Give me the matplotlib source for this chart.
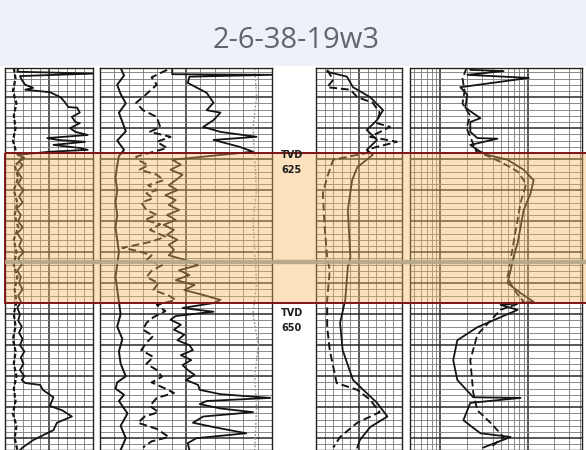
import matplotlib
matplotlib.use("Agg")
import matplotlib.pyplot as plt
import numpy as np

# ---------------- data ----------------
title = "2-6-38-19w3"
depth_top, depth_bottom = 610.3, 671.9
zone_top, zone_bottom = 624.0, 648.2
marker_depth = 641.6
tvd_labels = [("TVD", 624.3), ("625", 626.7), ("TVD", 649.8), ("650", 652.2)]

# Track 1 (0-100 scale)
gr_depth = [610.3, 610.9, 611.2, 611.6, 612.2, 613.0, 613.5, 613.8, 614.2, 615.0, 615.8, 616.6, 616.7,
            617.5, 618.2, 619.0, 619.2, 620.0, 620.6, 621.1, 621.6, 621.9, 622.2, 622.7, 623.2, 623.5,
            623.8, 624.3, 624.8, 625.3, 626, 627, 628, 629, 630, 631, 632, 633, 634, 635, 636, 637, 638,
            639, 640, 641, 642, 643, 644, 645, 646, 647, 648, 649, 650, 651, 652, 653, 654, 655, 656,
            657, 658, 659, 660, 660.6, 661.1, 661.4, 662.2, 663.4, 664.8, 665.5, 666.5, 667.5, 668.7,
            670.3, 671.5, 671.9]
gr_value = [15, 14, 100, 17, 19, 23, 32, 23, 51, 63, 68, 72, 82, 85, 76, 80, 85, 74, 80, 94, 48, 60, 91,
            55, 85, 94, 51, 15, 22, 16, 20, 14, 19, 15, 21, 16, 20, 13, 18, 15, 20, 14, 19, 16, 21, 15,
            19, 14, 18, 16, 20, 15, 18, 14, 17, 15, 19, 16, 20, 17, 22, 18, 21, 17, 22, 19, 23, 40, 43,
            55, 51, 65, 76, 59, 55, 32, 20, 17]
t1b_depth = [610.3, 612, 614, 616, 618, 620, 622, 624, 625, 626, 628, 630, 632, 634, 636, 638, 640, 642,
             644, 646, 648, 650, 652, 654, 656, 658, 660, 662, 664, 666, 668, 670, 671.9]
t1b_value = [10, 12, 9, 13, 10, 12, 9, 13, 20, 11, 15, 10, 14, 11, 15, 10, 13, 10, 14, 11, 13, 10, 12, 9,
             12, 10, 13, 10, 12, 9, 13, 11, 14]

# Track 2 (0-100 scale)
t2a_depth = [610.3, 611.5, 613, 614.5, 616, 617.5, 619, 620.5, 622, 623.5, 624.5, 626, 628, 630, 632, 634,
             636, 638, 640, 642, 644, 646, 648, 650, 652, 654, 656, 658, 660, 661, 662, 663, 664, 666,
             668, 670, 671.9]
t2a_value = [12, 14, 10, 12, 15, 11, 13, 15, 10, 14, 11, 10, 9, 10, 9, 10, 9, 10, 11, 10, 9, 10, 11, 12,
             10, 13, 11, 12, 15, 10, 9, 14, 11, 16, 12, 15, 12]
t2b_depth = [610.6, 611.8, 613.0, 615.0, 615.9, 617.1, 618.2, 619.8, 620.6, 621.4, 622.2, 623.2, 624.6,
             625.1, 626.0, 626.7, 627.5, 628.4, 629.2, 630.0, 630.5, 631.3, 632.0, 633.2, 634.0, 634.8,
             635.5, 636.4, 637.5, 638.3, 639.3, 639.8, 640.5, 641.3, 642.1, 643.0, 644.0, 645.0, 646.1,
             647.0, 647.7, 648.5, 649.5, 650.5, 651.4, 652.5, 653.5, 654.6, 655.8, 656.9, 658.0, 659.0,
             660.1, 661.0, 662.0, 662.7, 663.5, 664.8, 665.8, 666.5, 667.5, 668.5, 669.8, 670.5, 671.5]
t2b_value = [39, 30, 33, 25, 21, 25, 33, 35, 29, 41, 33, 39, 21, 22, 28, 23, 33, 37, 28, 33, 27, 31, 24,
             27, 33, 26, 35, 29, 38, 30, 13, 22, 30, 27, 36, 30, 27, 34, 31, 40, 44, 33, 38, 31, 27, 25,
             31, 27, 24, 31, 27, 33, 36, 30, 38, 43, 33, 29, 34, 26, 22, 33, 40, 30, 25]
t2c_depth = [610.3, 611.3, 611.4, 611.7, 612.7, 614.3, 615.9, 617.1, 617.5, 618.7, 619.8, 620.6, 621.4,
             621.9, 623.0, 623.8, 625.1, 625.9, 626.7, 627.5, 628.4, 629.2, 630.0, 630.8, 631.6, 632.4,
             633.2, 634.0, 634.8, 635.6, 636.4, 637.2, 638.0, 638.8, 639.6, 640.5, 641.3, 642.1, 642.9,
             643.7, 644.5, 645.3, 646.1, 646.9, 647.7, 648.2, 649.0, 649.6, 650.3, 650.9, 651.7, 652.5,
             653.3, 654.2, 655.0, 655.8, 656.6, 657.4, 658.2, 659.0, 659.8, 660.6, 661.4, 662.2, 662.9,
             663.5, 664.0, 664.5, 665.2, 665.8, 666.5, 667.5, 668.2, 669.2, 670.0, 670.8, 671.9]
t2c_value = [42, 42, 100, 52, 51, 62, 66, 62, 70, 66, 60, 70, 91, 66, 81, 89, 42, 47, 41, 48, 44, 40, 45,
             38, 44, 40, 46, 39, 44, 37, 43, 39, 45, 40, 43, 40, 50, 57, 46, 52, 44, 55, 49, 60, 70, 66,
             48, 66, 44, 41, 47, 43, 49, 45, 52, 54, 47, 53, 48, 51, 55, 50, 57, 58, 70, 99, 62, 58, 70,
             89, 60, 54, 66, 85, 56, 51, 52]
t2d_depth = [610.3, 615, 620, 625, 630, 635, 640, 645, 650, 655, 660, 665, 671.9]
t2d_value = [90, 91, 89, 90, 91, 89, 90, 91, 89, 92, 90, 91, 90]

# Track 3 (0-100 scale)
t3a_depth = [610.6, 612.2, 613.4, 613.8, 615.0, 615.9, 617.5, 619.2, 619.8, 621.4, 622.2, 623.2, 624.0,
             625.1, 627.9, 630.5, 635.9, 640.8, 642.9, 647.7, 652.1, 655.8, 661.1, 662.2, 663.8, 665.8,
             667.5, 669.8, 671.5]
t3a_value = [13, 20, 13, 40, 48, 66, 74, 71, 86, 63, 94, 66, 59, 20, 13, 8, 10, 13, 16, 13, 13, 16, 24,
             48, 63, 74, 48, 28, 20]
t3b_depth = [610.9, 611.7, 613.4, 615.0, 617.1, 618.7, 620.3, 621.9, 623.5, 624.3, 626.3, 628.4, 633.2,
             640.8, 642.4, 647.7, 651.4, 655.8, 660.6, 662.2, 664.3, 666.5, 668.2, 670.3, 671.5]
t3b_value = [13, 36, 43, 63, 78, 71, 59, 71, 59, 66, 48, 42, 37, 40, 37, 34, 28, 31, 43, 55, 71, 83, 63,
             51, 48]

# Track 4 (resistivity, log scale)
t4a_depth = [610.3, 610.6, 610.8, 611.4, 611.9, 613.4, 614.6, 616.7, 618.4, 619.0, 620.6, 621.6, 621.7,
             622.7, 623.8, 624.3, 625.1, 626.7, 628.4, 630.5, 633.2, 635.9, 638.5, 640.8, 642.9, 645.0,
             646.6, 648.0, 648.5, 649.3, 652.1, 654.2, 657.4, 660.6, 663.4, 663.5, 664.3, 667.1, 669.2,
             669.8, 671.5]
t4a_value = [2.21, 2.21, 5.3, 2.04, 10.3, 1.70, 2.04, 1.94, 2.88, 2.21, 2.21, 2.66, 4.52, 2.21, 2.88, 3.47,
             5.89, 9.0, 11.7, 10.8, 9.0, 8.31, 7.68, 6.9, 6.38, 5.89, 8.31, 11.7, 4.9, 7.68, 2.66, 1.57,
             1.41, 1.57, 2.39, 8.31, 2.21, 1.84, 2.88, 6.38, 3.12]
t4b_depth = [610.3, 612, 614, 616, 618, 620, 622, 623.8, 624.5, 625.5, 627, 629, 632, 636, 640, 644, 646,
             648, 649.3, 653.3, 657.4, 661.1, 662.7, 665.5, 667.5, 669.8, 671.5]
t4b_value = [2.0, 1.8, 1.9, 1.8, 2.2, 2.0, 2.3, 2.6, 3.5, 5.0, 7.7, 9.6, 8.3, 7.4, 6.6, 5.9, 6.9, 9.0, 4.9,
             2.66, 2.21, 2.33, 2.39, 2.66, 3.76, 5.3, 3.76]

# ---------------- figure ----------------
W, H = 586, 450
fig = plt.figure(figsize=(W / 100, H / 100), dpi=100)
fig.patch.set_facecolor("#eef2f8")

LOG_TOP = 68  # pixel row where the log starts

bg = fig.add_axes([0, 0, 1, (H - LOG_TOP + 2) / H])
bg.set_facecolor("white")
bg.set_xticks([]); bg.set_yticks([])
for s in bg.spines.values():
    s.set_visible(False)

fig.text(296 / W, 1 - 41 / H, title, ha="center", va="center", fontsize=21,
         family="Open Sans", color="#60666f")


def track(x0, x1):
    ax = fig.add_axes([x0 / W, 0, (x1 - x0) / W, (H - LOG_TOP) / H])
    ax.set_ylim(depth_bottom, depth_top)
    ax.set_yticks(np.arange(615, 671, 5))
    ax.set_yticks(np.arange(611, 672, 1), minor=True)
    ax.tick_params(which="both", length=0, labelleft=False, labelbottom=False)
    for s in ax.spines.values():
        s.set_color("#222")
        s.set_linewidth(1.0)
    ax.set_facecolor("white")
    return ax


def style_grid(ax):
    ax.grid(which="major", color="#2a2a2a", lw=1.1)
    ax.grid(which="minor", color="#777777", lw=0.6)
    ax.set_axisbelow(True)


CURVE = "#141414"

ax1 = track(5, 93)
ax1.set_xlim(0, 100)
ax1.set_xticks([50])
ax1.set_xticks(np.arange(10, 100, 10), minor=True)
style_grid(ax1)
ax1.plot(t1b_value, t1b_depth, color=CURVE, lw=1.6, ls=(0, (2, 1)))
ax1.plot(gr_value, gr_depth, color=CURVE, lw=1.3)

ax2 = track(100, 272)
ax2.set_xlim(0, 100)
ax2.set_xticks([50])
ax2.set_xticks(np.linspace(0, 100, 13)[1:-1], minor=True)
style_grid(ax2)
ax2.plot(t2d_value, t2d_depth, color="#9a9a9a", lw=1.0, ls=(0, (1.5, 1.2)))
ax2.plot(t2a_value, t2a_depth, color=CURVE, lw=1.4)
ax2.plot(t2b_value, t2b_depth, color=CURVE, lw=1.4, ls=(0, (4, 2)))
ax2.plot(t2c_value, t2c_depth, color=CURVE, lw=1.3)

ax3 = track(316, 402)
ax3.set_xlim(0, 100)
ax3.set_xticks([50])
ax3.set_xticks(np.arange(10, 100, 10), minor=True)
style_grid(ax3)
ax3.plot(t3a_value, t3a_depth, color=CURVE, lw=1.4, ls=(0, (4, 2)))
ax3.plot(t3b_value, t3b_depth, color=CURVE, lw=1.3)

ax4 = track(410, 582)
ax4.set_xscale("log")
ax4.set_xlim(10 ** (-30 / 87), 10 ** (1 + 54 / 87))
ax4.set_xticks([1, 10])
ax4.set_xticks([0.5, 0.6, 0.7, 0.8, 0.9, 2, 3, 4, 5, 6, 7, 8, 9, 20, 30, 40], minor=True)
ax4.tick_params(which="both", length=0, labelleft=False, labelbottom=False)
style_grid(ax4)
ax4.plot(t4b_value, t4b_depth, color=CURVE, lw=1.3, ls=(0, (4, 2)))
ax4.plot(t4a_value, t4a_depth, color=CURVE, lw=1.3)

# overlay: zone of interest
ov = fig.add_axes([5 / W, 0, (W - 5) / W, (H - LOG_TOP) / H])
ov.set_ylim(depth_bottom, depth_top)
ov.set_xlim(0, 1)
ov.axis("off")
ov.patch.set_alpha(0)
ov.axhspan(zone_top, zone_bottom, color="#f5b65c", alpha=0.4, lw=0)
ov.axhline(marker_depth, color="#b3a689", lw=3.2, alpha=0.9)
ov.add_patch(plt.Rectangle((0, zone_top), 1.01, zone_bottom - zone_top, fill=False,
                           edgecolor="#7d1518", lw=1.4, clip_on=False))
tr = ov.get_yaxis_transform()
for txt, d in tvd_labels:
    ov.text((292 - 5) / (W - 5), d, txt, transform=tr, ha="center", va="center",
            fontsize=7, fontweight="bold", color="#1e1e1e")

fig.savefig("out.png", dpi=100, facecolor=fig.get_facecolor())
